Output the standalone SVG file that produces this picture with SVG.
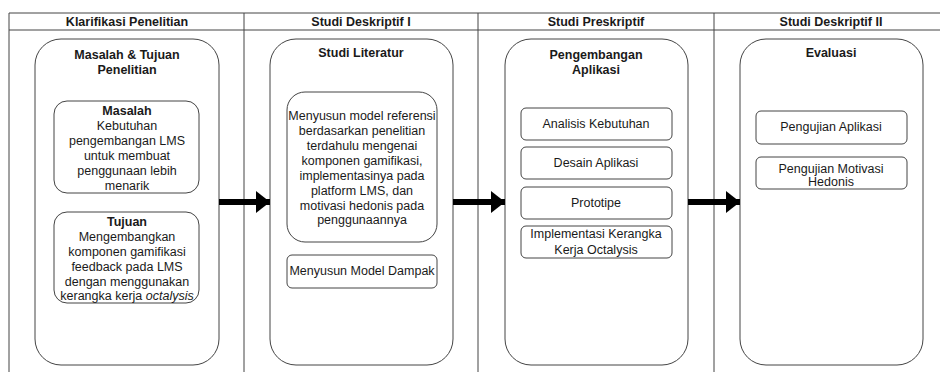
<svg xmlns="http://www.w3.org/2000/svg" width="940" height="372" viewBox="0 0 940 372">
<style>
text{font-family:"Liberation Sans",Arial,sans-serif;font-size:12.5px;fill:#1a1a1a;text-anchor:middle}
.b{font-weight:bold}
.grid{stroke:#444;stroke-width:1;fill:none}
.big{fill:#fff;stroke:#444;stroke-width:1}
.box{fill:#fff;stroke:#444;stroke-width:1}
.arr{stroke:#000;stroke-width:6;fill:none}
</style>
<defs>
<marker id="ah" markerUnits="userSpaceOnUse" markerWidth="16" markerHeight="24" refX="14" refY="12" orient="auto">
<path d="M0,1 L14,12 L0,23 Z" fill="#000"/>
</marker>
</defs>
<rect width="940" height="372" fill="#fff"/>
<g id="table">
<line class="grid" x1="9" y1="13" x2="940" y2="13"/>
<line class="grid" x1="9" y1="30" x2="940" y2="30"/>
<line class="grid" x1="9" y1="13" x2="9" y2="372"/>
<line class="grid" x1="244" y1="13" x2="244" y2="372"/>
<line class="grid" x1="478" y1="13" x2="478" y2="372"/>
<line class="grid" x1="714" y1="13" x2="714" y2="372"/>
<text class="b" x="127" y="26">Klarifikasi Penelitian</text>
<text class="b" x="361" y="26">Studi Deskriptif I</text>
<text class="b" x="596" y="26">Studi Preskriptif</text>
<text class="b" x="831" y="26">Studi Deskriptif II</text>
</g>
<g id="col1">
<rect class="big" x="35" y="39" width="184" height="326" rx="26"/>
<text class="b" x="127" y="59">Masalah &amp; Tujuan</text>
<text class="b" x="127" y="74">Penelitian</text>
</g>
<g id="masalah">
<rect class="box" x="54" y="101" width="145" height="92" rx="13"/>
<text class="b" x="127" y="115">Masalah</text>
<text x="127" y="130">Kebutuhan</text>
<text x="127" y="145">pengembangan LMS</text>
<text x="127" y="160">untuk membuat</text>
<text x="127" y="175">penggunaan lebih</text>
<text x="127" y="190">menarik</text>
</g>
<g id="tujuan">
<rect class="box" x="54" y="212" width="145" height="91" rx="13"/>
<text class="b" x="127" y="226">Tujuan</text>
<text x="127" y="241">Mengembangkan</text>
<text x="127" y="256">komponen gamifikasi</text>
<text x="127" y="271">feedback pada LMS</text>
<text x="127" y="286">dengan menggunakan</text>
<text x="127" y="300">kerangka kerja <tspan font-style="italic">octalysis</tspan></text>
</g>
<g id="col2">
<rect class="big" x="270" y="39" width="183" height="326" rx="26"/>
<text class="b" x="361" y="57">Studi Literatur</text>
</g>
<g id="literatur">
<rect class="box" x="287" y="92" width="150" height="150" rx="18"/>
<text x="362" y="120">Menyusun model referensi</text>
<text x="362" y="135">berdasarkan penelitian</text>
<text x="362" y="150">terdahulu mengenai</text>
<text x="362" y="165">komponen gamifikasi,</text>
<text x="362" y="180">implementasinya pada</text>
<text x="362" y="195">platform LMS, dan</text>
<text x="362" y="210">motivasi hedonis pada</text>
<text x="362" y="224">penggunaannya</text>
</g>
<g id="dampak">
<rect class="box" x="287" y="255" width="150" height="33" rx="5"/>
<text x="362" y="275">Menyusun Model Dampak</text>
</g>
<g id="col3">
<rect class="big" x="505" y="39" width="183" height="326" rx="26"/>
<text class="b" x="596" y="59">Pengembangan</text>
<text class="b" x="596" y="74">Aplikasi</text>
</g>
<g id="analisis">
<rect class="box" x="521" y="108" width="151" height="32" rx="5"/>
<text x="596" y="128">Analisis Kebutuhan</text>
</g>
<g id="desain">
<rect class="box" x="521" y="147" width="151" height="32" rx="5"/>
<text x="596" y="167">Desain Aplikasi</text>
</g>
<g id="prototipe">
<rect class="box" x="521" y="187" width="151" height="32" rx="5"/>
<text x="596" y="207">Prototipe</text>
</g>
<g id="implementasi">
<rect class="box" x="521" y="226" width="151" height="32" rx="5"/>
<text x="596" y="238">Implementasi Kerangka</text>
<text x="596" y="254">Kerja Octalysis</text>
</g>
<g id="col4">
<rect class="big" x="740" y="39" width="183" height="326" rx="26"/>
<text class="b" x="831" y="57">Evaluasi</text>
</g>
<g id="pengujian-aplikasi">
<rect class="box" x="756" y="111" width="151" height="33" rx="5"/>
<text x="831" y="131">Pengujian Aplikasi</text>
</g>
<g id="pengujian-motivasi">
<rect class="box" x="756" y="157" width="151" height="32" rx="5"/>
<text x="831" y="173">Pengujian Motivasi</text>
<text x="831" y="186">Hedonis</text>
</g>
<g id="connectors">
<line class="arr" x1="219" y1="202" x2="270" y2="202" marker-end="url(#ah)"/>
<line class="arr" x1="453" y1="202" x2="505" y2="202" marker-end="url(#ah)"/>
<line class="arr" x1="688" y1="202" x2="740" y2="202" marker-end="url(#ah)"/>
</g>
</svg>
